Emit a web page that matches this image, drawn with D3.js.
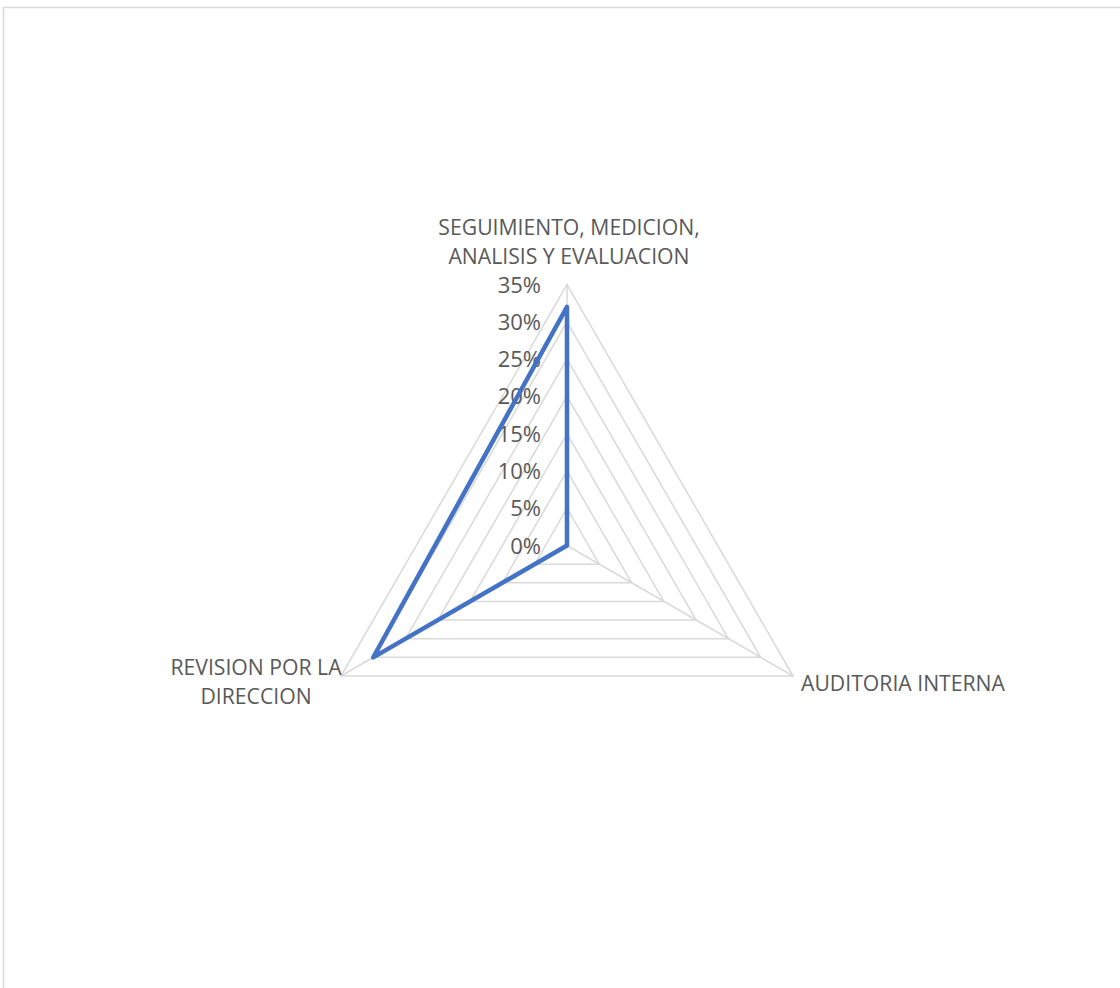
<!DOCTYPE html>
<html><head><meta charset="utf-8">
<script src="https://cdn.jsdelivr.net/npm/d3@7"></script>
<style>body{margin:0;background:#fff}svg{display:block}</style>
</head><body>
<svg id="c" width="1120" height="988"></svg>
<script>
const categories = [["SEGUIMIENTO, MEDICION,", "ANALISIS Y EVALUACION"], ["AUDITORIA INTERNA"], ["REVISION POR LA", "DIRECCION"]];
const values = [0.32, 0, 0.30];
const tickValues = [0, 0.05, 0.10, 0.15, 0.20, 0.25, 0.30, 0.35];
const tickLabels = ["0%", "5%", "10%", "15%", "20%", "25%", "30%", "35%"];

const svg = d3.select("#c");
const font = "'Open Sans', 'Liberation Sans', sans-serif";
svg.append("rect").attr("x", 3.5).attr("y", 7.5).attr("width", 1300).attr("height", 1300)
  .attr("fill", "#fff").attr("stroke", "#d9d9d9").attr("stroke-width", 1.5);

const cx = 567, cy = 545.5;
const r = d3.scaleLinear().domain([0, 0.35]).range([0, 261]);
const n = categories.length;
const ang = i => -Math.PI / 2 + i * 2 * Math.PI / n;
const pt = (i, v) => [cx + r(v) * Math.cos(ang(i)), cy + r(v) * Math.sin(ang(i))];

const g = svg.append("g");
const line = d3.line().curve(d3.curveLinearClosed);
g.selectAll("path.ring").data(tickValues.filter(t => t > 0)).join("path")
  .attr("class", "ring")
  .attr("d", t => line(d3.range(n).map(i => pt(i, t))))
  .attr("fill", "none").attr("stroke", "#d9d9d9").attr("stroke-width", 1.5);
g.selectAll("line.spoke").data(d3.range(n)).join("line")
  .attr("x1", cx).attr("y1", cy)
  .attr("x2", i => pt(i, 0.35)[0]).attr("y2", i => pt(i, 0.35)[1])
  .attr("stroke", "#d9d9d9").attr("stroke-width", 1.5);

g.selectAll("text.tick").data(tickValues).join("text")
  .attr("class", "tick")
  .attr("x", cx - 26).attr("y", t => cy - r(t) + 8)
  .attr("text-anchor", "end").attr("font-family", font).attr("font-size", 22)
  .attr("fill", "#595959").text((t, i) => tickLabels[i]);

g.append("path")
  .attr("d", line(values.map((v, i) => pt(i, v))))
  .attr("fill", "none").attr("stroke", "#4472c4").attr("stroke-width", 4.5)
  .attr("stroke-linejoin", "round");

const labelPos = [
  {x: 569, y: 235, anchor: "middle"},
  {x: 903, y: 691, anchor: "middle"},
  {x: 256, y: 675, anchor: "middle"}
];
categories.forEach((lines, i) => {
  const t = svg.append("text").attr("font-family", font).attr("font-size", 21.2)
    .attr("fill", "#595959").attr("text-anchor", labelPos[i].anchor);
  lines.forEach((s, k) => t.append("tspan").attr("x", labelPos[i].x)
    .attr("y", labelPos[i].y + k * 29).text(s));
});
</script>
</body></html>
